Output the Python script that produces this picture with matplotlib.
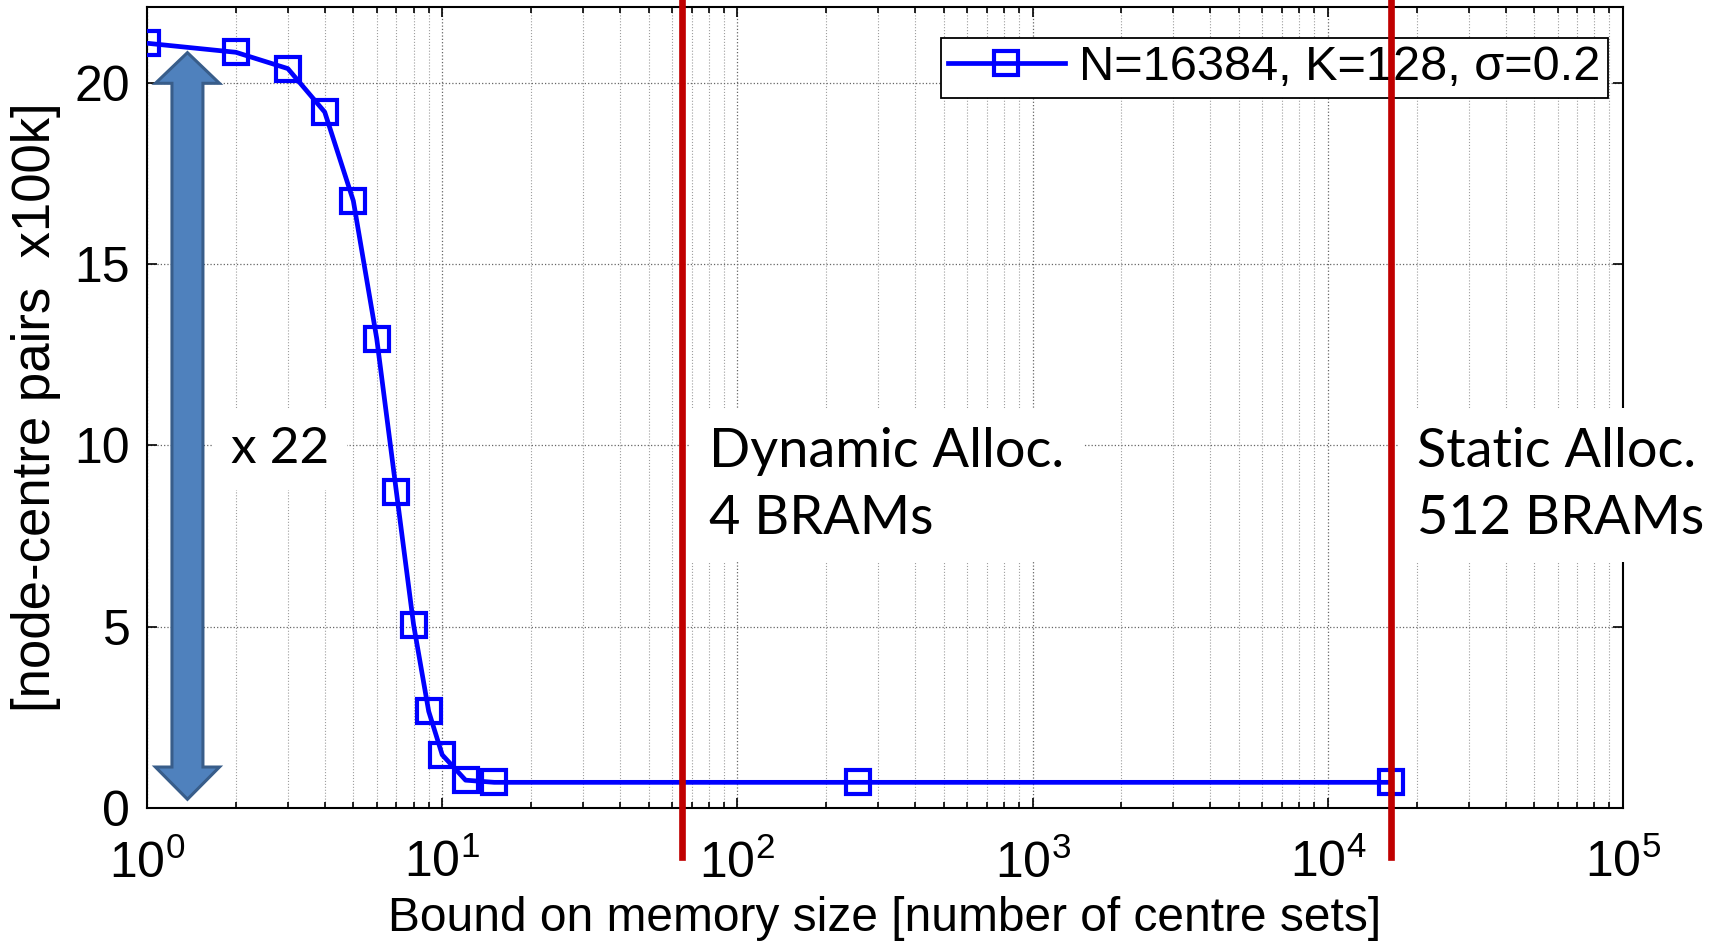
import matplotlib
matplotlib.use('Agg')
import matplotlib.pyplot as plt
import matplotlib.ticker as ticker
from matplotlib.patches import Polygon

plt.rcParams['font.family'] = ['Liberation Sans', 'DejaVu Sans']
plt.rcParams['mathtext.fontset'] = 'custom'
plt.rcParams['mathtext.rm'] = 'Liberation Sans'
plt.rcParams['mathtext.it'] = 'Liberation Sans:italic'

# memory bound (number of centre sets) vs node-centre pairs (x100k)
mem_bound = [1, 2, 3, 4, 5, 6, 7, 8, 9, 10, 12, 15, 256, 16384]
pairs = [21.1, 20.85, 20.4, 19.2, 16.75, 12.95, 8.7, 5.05, 2.66, 1.46, 0.76, 0.7, 0.7, 0.7]
series_label = 'N=16384, K=128, σ=0.2'

# allocation schemes marked with vertical lines
alloc_x = [65, 16384]
alloc_text = ['Dynamic Alloc.\n4 BRAMs', 'Static Alloc.\n512 BRAMs']
gain_text = 'x 22'

W, H = 1713, 941
fig = plt.figure(figsize=(W / 100, H / 100), dpi=100)
ax = fig.add_axes([147 / W, 1 - 807.7 / H, 1476 / W, 800.7 / H])

ax.plot(mem_bound, pairs, color='#0000ff', lw=3.4, marker='s', ms=17.5,
        mfc='none', mec='#0000ff', mew=3.0, label=series_label, zorder=4)

ax.set_xscale('log')
ax.set_xlim(1, 1e5)
ax.set_ylim(0, 22.1)
ax.set_yticks([0, 5, 10, 15, 20])
ax.xaxis.set_major_locator(ticker.LogLocator(base=10, numticks=10))
ax.xaxis.set_minor_locator(ticker.LogLocator(base=10, subs=range(2, 10), numticks=50))
ax.xaxis.set_minor_formatter(ticker.NullFormatter())

ax.grid(True, which='major', axis='both', ls=':', color='0.4', lw=0.9)
ax.grid(True, which='minor', axis='x', ls=':', color='0.62', lw=0.8)

ax.tick_params(which='both', direction='in', top=True, right=True, width=1.2)
ax.tick_params(which='major', length=7, labelsize=36)
ax.tick_params(axis='y', pad=12)
ax.tick_params(axis='x', pad=23)
ax.tick_params(which='minor', length=4)
for s in ax.spines.values():
    s.set_linewidth(1.5)

ax.set_xlabel('Bound on memory size [number of centre sets]', fontsize=34.5, labelpad=6)
ax.set_ylabel('[node-centre pairs  x100k]', fontsize=38, labelpad=10)

leg = ax.legend(loc='upper right', bbox_to_anchor=(0.9898, 0.9613), borderaxespad=0,
                fontsize=35, handlelength=2.4, handletextpad=0.3, borderpad=0.15,
                fancybox=False, framealpha=1, edgecolor='black')
leg.get_frame().set_linewidth(1.3)
leg.set_zorder(5)

# red markers for the two allocation schemes
for xv, txt in zip(alloc_x, alloc_text):
    ax.axvline(xv, ymin=-0.0616, ymax=1.02, color='#c00000', lw=4.8,
               clip_on=False, zorder=7)
    ax.annotate(txt, xy=(xv, 8.9), xytext=(19, 0), textcoords='offset points',
                ha='left', va='center', fontsize=39, family='Lato',
                linespacing=1.45, annotation_clip=False, zorder=3,
                bbox=dict(boxstyle='square,pad=0.35', fc='white', ec='none'))

# double-headed block arrow showing the reduction
xc, hs, hh = 0.0274, 0.0105, 0.0217
ytop, ytb, ybot, ybb = 0.943, 0.9047, 0.0105, 0.0508
arrow = Polygon([(xc, ytop), (xc + hh, ytb), (xc + hs, ytb), (xc + hs, ybb),
                 (xc + hh, ybb), (xc, ybot), (xc - hh, ybb), (xc - hs, ybb),
                 (xc - hs, ytb), (xc - hh, ytb)], closed=True,
                transform=ax.transAxes, fc='#4f81bd', ec='#385d8a', lw=2.2, zorder=3)
ax.add_patch(arrow)
ax.text(2.82, 9.9, gain_text, ha='center', va='center', fontsize=37, family='Lato',
        zorder=3, bbox=dict(boxstyle='square,pad=0.35', fc='white', ec='none'))

fig.savefig('out.png', dpi=100)
